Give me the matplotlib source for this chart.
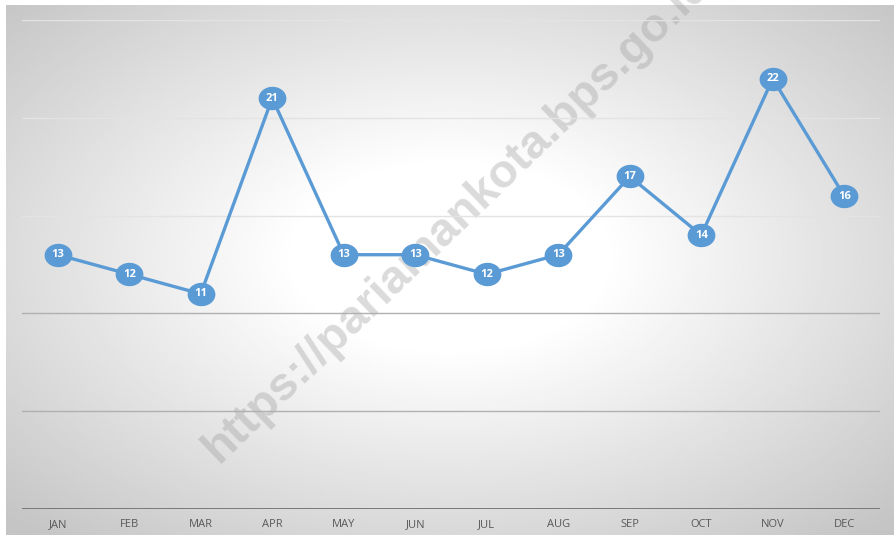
import numpy as np
import matplotlib
matplotlib.use('Agg')
import matplotlib.pyplot as plt
from matplotlib.path import Path

# data
months = ['JAN', 'FEB', 'MAR', 'APR', 'MAY', 'JUN', 'JUL', 'AUG', 'SEP', 'OCT', 'NOV', 'DEC']
values = [13, 12, 11, 21, 13, 13, 12, 13, 17, 14, 22, 16]
grid_levels = [5, 10, 15, 20, 25]
watermark = 'https://pariamankota.bps.go.id'

LINE_BLUE = '#5B9BD5'

fig = plt.figure(figsize=(8.95, 5.37), dpi=100)

# --- radial gradient background ---
bg = fig.add_axes([6 / 895, 2 / 537, 889 / 895, 530 / 537], zorder=-2)
gx, gy = np.meshgrid(np.linspace(-1, 1, 400), np.linspace(-1, 1, 300))
r = np.sqrt(gx ** 2 + (gy + 0.05) ** 2)
t = np.clip((r - 0.35) / (1.414 - 0.35), 0, 1)
shade = 1.0 - 0.23 * t
bg.imshow(shade, cmap='gray', vmin=0, vmax=1, aspect='auto', extent=[0, 1, 0, 1],
          interpolation='bilinear')
bg.set_axis_off()

# watermark between background and chart
fig.text(0.252, 0.122, watermark, rotation=44, fontsize=34, fontweight='bold',
         family='Liberation Sans', color='#9a9a9a', alpha=0.36,
         ha='left', va='bottom', rotation_mode='anchor', zorder=-1)

# --- main chart ---
ax = fig.add_axes([22 / 895, 28 / 537, 858 / 895, 489 / 537])
ax.patch.set_alpha(0)
x = np.arange(len(months))

for lvl in grid_levels:
    col = '#b0b0b0' if lvl <= 10 else '#e3e3e3'
    ax.axhline(lvl, color=col, linewidth=1.0, zorder=1)
ax.axhline(0, color='#707070', linewidth=2.0, zorder=1)

# slightly wider than tall marker (Excel style ellipse)
theta = np.linspace(0, 2 * np.pi, 60)
ellipse = Path(np.column_stack([1.2 * np.cos(theta), np.sin(theta)]), closed=True)

ax.plot(x, values, color=LINE_BLUE, linewidth=2.4, marker=ellipse, markersize=19,
        markerfacecolor=LINE_BLUE, markeredgecolor=LINE_BLUE, zorder=3)

for xi, v in zip(x, values):
    ax.text(xi, v, str(v), ha='center', va='center', color='white',
            fontsize=8, fontweight='bold', family='Open Sans', zorder=4)

ax.set_xlim(-0.5, len(months) - 0.5)
ax.set_ylim(0, 25)
ax.set_xticks(x)
ax.set_xticklabels(months, fontsize=8, color='#595959', family='Open Sans')
ax.tick_params(axis='x', length=0, pad=7)
ax.set_yticks([])
for s in ax.spines.values():
    s.set_visible(False)

plt.savefig('out.png', dpi=100)
